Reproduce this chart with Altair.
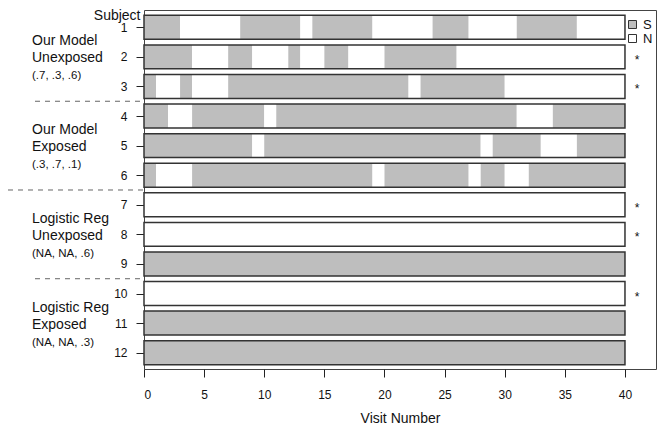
import altair as alt
import pandas as pd

# ---- data ----
subjects = [1, 2, 3, 4, 5, 6, 7, 8, 9, 10, 11, 12]
# change points of each subject's state sequence over visits 0..40
breaks = [
    [0, 3, 8, 13, 14, 19, 24, 27, 31, 36, 40],
    [0, 4, 7, 9, 12, 13, 15, 17, 20, 26, 40],
    [0, 1, 3, 4, 7, 22, 23, 30, 40],
    [0, 2, 4, 10, 11, 31, 34, 40],
    [0, 9, 10, 28, 29, 33, 36, 40],
    [0, 1, 4, 19, 20, 27, 28, 30, 32, 40],
    [0, 40],
    [0, 40],
    [0, 40],
    [0, 40],
    [0, 40],
    [0, 40],
]
first_state = ["S", "S", "S", "S", "S", "S", "N", "N", "S", "N", "S", "S"]
starred = [0, 1, 1, 0, 0, 0, 1, 1, 0, 1, 0, 0]
states = ["S", "N"]
state_colors = ["#bebebe", "#ffffff"]
x_ticks = [0, 5, 10, 15, 20, 25, 30, 35, 40]

group_title = ["Our Model", "Our Model", "Logistic Reg", "Logistic Reg"]
group_sub = ["Unexposed", "Exposed", "Unexposed", "Exposed"]
group_param = ["(.7, .3, .6)", "(.3, .7, .1)", "(NA, NA, .6)", "(NA, NA, .3)"]
group_mid = [2, 5, 8, 11]
separators = [3.5, 6.5, 9.5]
sep_long = [False, True, False]

FONT = "Liberation Sans"
HALF = 0.405  # half bar height, in row units

# ---- tables ----
seg_rows = []
for s, b, f in zip(subjects, breaks, first_state):
    st = f
    for a, e in zip(b[:-1], b[1:]):
        seg_rows.append({"subject": s, "start": a, "end": e, "state": st})
        st = "N" if st == "S" else "S"
seg = pd.DataFrame(seg_rows)
seg["y0"] = seg["subject"] - HALF
seg["y1"] = seg["subject"] + HALF

outline = pd.DataFrame({
    "subject": subjects,
    "start": [b[0] for b in breaks],
    "end": [b[-1] for b in breaks],
})
outline["y0"] = outline["subject"] - HALF
outline["y1"] = outline["subject"] + HALF

stars = pd.DataFrame({"subject": subjects, "star": starred})
stars = stars[stars["star"] == 1]

groups = pd.DataFrame({"title": group_title, "sub": group_sub,
                       "param": group_param, "mid": group_mid})
seps = pd.DataFrame({"row": separators, "long": sep_long})

xs = alt.Scale(domain=[0, 42.58], nice=False, zero=False)
ys = alt.Scale(domain=[0.415, 12.552], reverse=True, nice=False, zero=False)

X_AXIS = alt.Axis(values=x_ticks, title="Visit Number", grid=False,
                  domain=False, tickSize=8, labelPadding=12,
                  tickColor="#222", labelColor="#111",
                  labelFontSize=12, labelFont=FONT,
                  titleFont=FONT, titleFontSize=14,
                  titleFontWeight="normal", titleColor="#111",
                  titlePadding=11, format="d")
Y_AXIS = alt.Axis(values=subjects, title="Subject", grid=False,
                  domain=False, tickSize=8, labelPadding=9,
                  tickColor="#222", labelColor="#111",
                  labelFontSize=12, labelFont=FONT, format="d",
                  titleFont=FONT, titleFontSize=14,
                  titleFontWeight="normal", titleColor="#111",
                  titleAngle=0, titleAlign="right",
                  titleBaseline="alphabetic", titleX=-4, titleY=9)


def X(field):
    return alt.X(field, scale=xs, axis=X_AXIS, title="Visit Number")


def Y(field):
    return alt.Y(field, scale=ys, axis=Y_AXIS, title="Subject")


bars = alt.Chart(seg).mark_rect(strokeWidth=0).encode(
    x=X("start:Q"),
    x2="end:Q",
    y=Y("y0:Q"),
    y2="y1:Q",
    color=alt.Color("state:N",
                    scale=alt.Scale(domain=states, range=state_colors),
                    legend=alt.Legend(title=None, orient="none",
                                      legendX=482, legendY=8, padding=0,
                                      symbolType="square", symbolSize=64,
                                      symbolStrokeColor="#333",
                                      symbolStrokeWidth=1,
                                      labelFont=FONT, labelFontSize=13,
                                      labelColor="#111", labelOffset=4,
                                      rowPadding=0)),
)

outl = alt.Chart(outline).mark_rect(filled=False, stroke="#333",
                                    strokeWidth=1.5).encode(
    x=X("start:Q"),
    x2="end:Q",
    y=Y("y0:Q"),
    y2="y1:Q",
)

star_layer = alt.Chart(stars).mark_text(text="*", font=FONT, fontSize=12,
                                        baseline="alphabetic", dy=7,
                                        color="#111").encode(
    x=alt.datum(41, scale=xs, axis=X_AXIS, title="Visit Number"),
    y=Y("subject:Q"),
)


def glabel(field, dy, size):
    return alt.Chart(groups).mark_text(font=FONT, fontSize=size, align="left",
                                       baseline="alphabetic", dy=dy,
                                       color="#111").encode(
        x=alt.value(-112),
        y=Y("mid:Q"),
        text=f"{field}:N",
    )


lab1 = glabel("title", -11.5, 14)
lab2 = glabel("sub", 5.5, 14)
lab3 = glabel("param", 22.5, 11.5)

sep_short = alt.Chart(seps).transform_filter("!datum.long").mark_rule(
    strokeDash=[5, 5], color="#666", strokeWidth=1).encode(
    x=alt.value(-109), x2=alt.value(0),
    y=Y("row:Q"),
)
sep_full = alt.Chart(seps).transform_filter("datum.long").mark_rule(
    strokeDash=[5, 5], color="#666", strokeWidth=1).encode(
    x=alt.value(-136), x2=alt.value(0),
    y=Y("row:Q"),
)

chart = alt.layer(bars, outl, star_layer, lab1, lab2, lab3,
                  sep_short, sep_full).properties(
    width=512, height=359,
    autosize=alt.AutoSizeParams(type="none"),
    padding={"left": 136, "top": 2, "right": 1, "bottom": 56},
    background="white",
).configure_view(stroke="#444", strokeWidth=1)

chart.save("out.html", embed_options={"renderer": "svg", "actions": False})
